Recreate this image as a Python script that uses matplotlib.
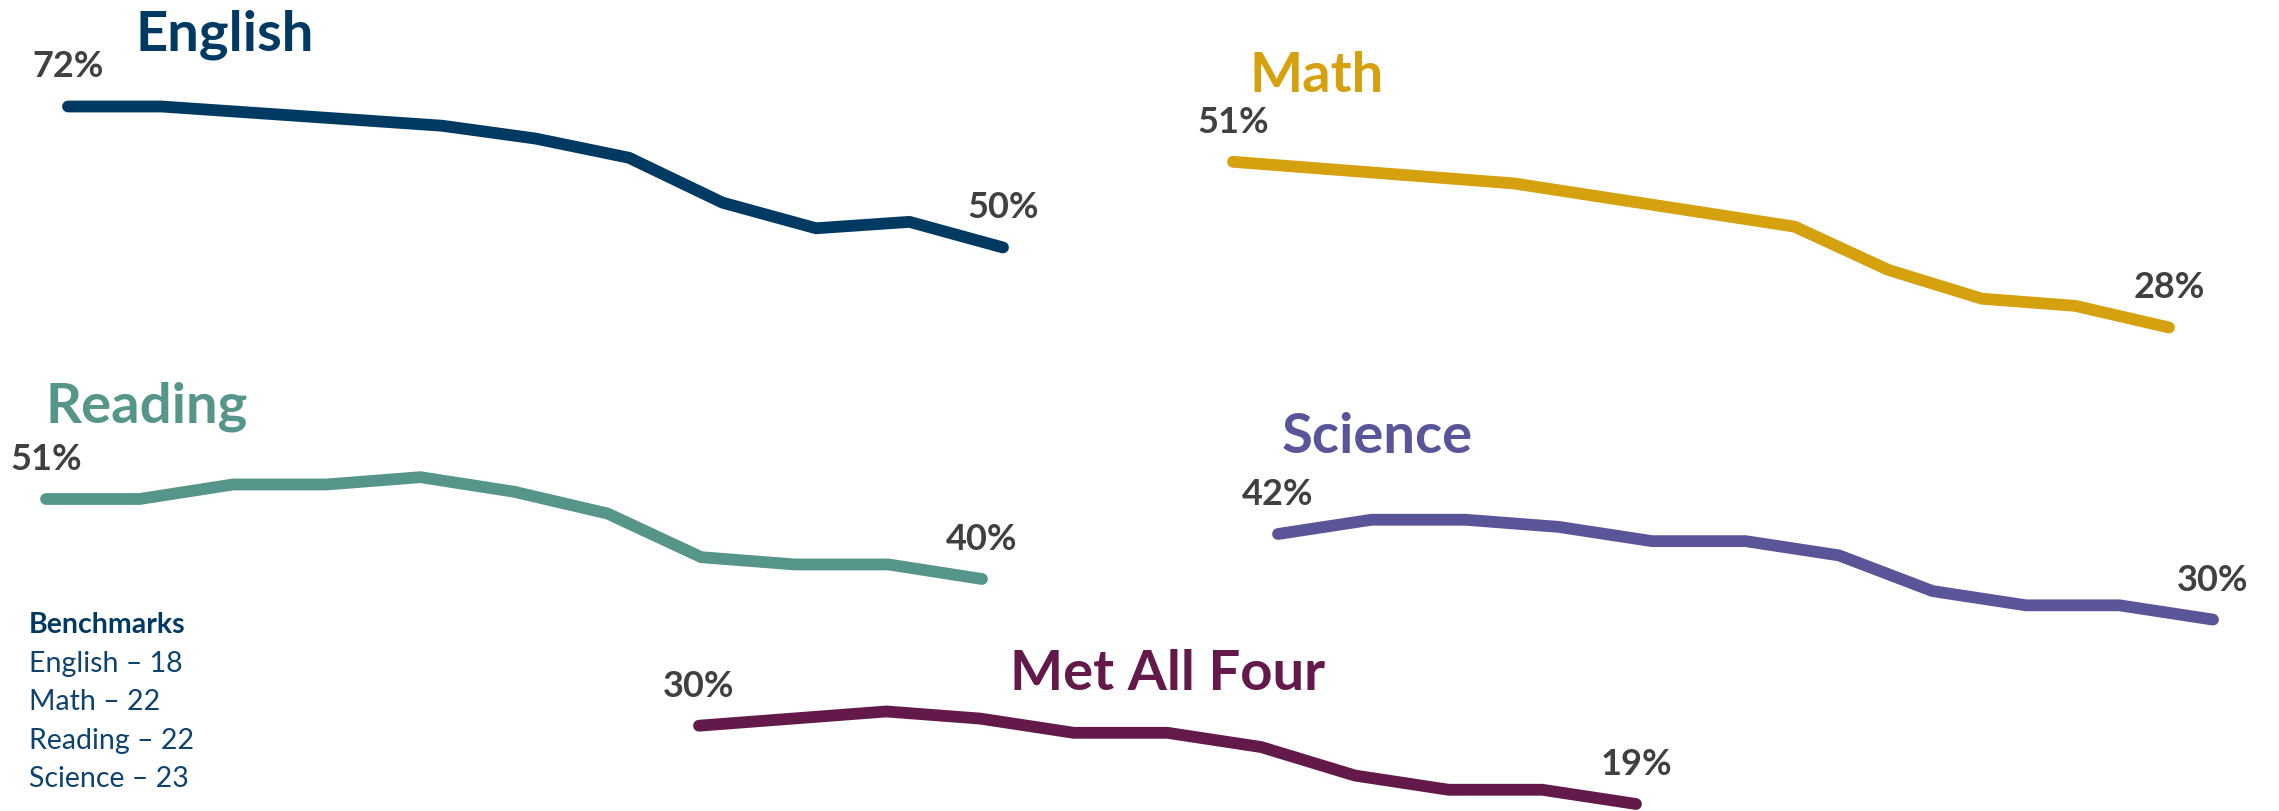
import matplotlib
matplotlib.use("Agg")
import matplotlib.pyplot as plt

# ---- data ----
x_index = [0, 1, 2, 3, 4, 5, 6, 7, 8, 9, 10]
english = [72, 72, 71, 70, 69, 67, 64, 57, 53, 54, 50]
math_ = [51, 50, 49, 48, 46, 44, 42, 36, 32, 31, 28]
reading = [51, 51, 53, 53, 54, 52, 49, 43, 42, 42, 40]
science = [42, 44, 44, 43, 41, 41, 39, 34, 32, 32, 30]
met_all_four = [30, 31, 32, 31, 29, 29, 27, 23, 21, 21, 19]

series_names = ["English", "Math", "Reading", "Science", "Met All Four"]
series_values = [english, math_, reading, science, met_all_four]
series_colors = ["#003A63", "#D6A10F", "#56968A", "#5A5599", "#631A4B"]

benchmark_title = "Benchmarks"
benchmark_lines = ["English \u2013 18", "Math \u2013 22", "Reading \u2013 22", "Science \u2013 23"]

# ---- layout (pixels in a 2279x812 canvas) ----
W, H = 2279, 812
# (x of first point, x of last point, y of first value, y of last value)
panel_boxes = [
    (68, 1003, 107.5, 248.5),
    (1233, 2169, 162.8, 328.5),
    (46, 982, 500, 580),
    (1278, 2213, 535, 620.6),
    (699, 1636, 726.7, 805),
]
# title left x, baseline y
title_pos = [(136, 50), (1250, 92), (45, 423), (1282, 453), (1010, 690)]

FONT = ["Lato", "DejaVu Sans"]
LABEL_COLOR = "#404040"

fig = plt.figure(figsize=(W / 100, H / 100), dpi=100)
fig.patch.set_facecolor("white")

for name, vals, col, box, tp in zip(series_names, series_values, series_colors,
                                   panel_boxes, title_pos):
    x0, x1, yf, yl = box
    top = min(yf, yl)
    bot = max(yf, yl)
    ax = fig.add_axes([x0 / W, 1 - bot / H, (x1 - x0) / W, (bot - top) / H])
    ax.plot(x_index, vals, color=col, lw=8.5, solid_capstyle="round",
            solid_joinstyle="miter", clip_on=False)
    ax.set_xlim(x_index[0], x_index[-1])
    lo, hi = min(vals[0], vals[-1]), max(vals[0], vals[-1])
    ax.set_ylim(lo, hi)
    ax.axis("off")
    for i in (0, len(vals) - 1):
        ax.annotate(f"{vals[i]}%", (x_index[i], vals[i]), xytext=(0, 30),
                    textcoords="offset pixels", ha="center", va="baseline",
                    fontsize=26, fontweight="bold", color=LABEL_COLOR,
                    family=FONT, annotation_clip=False)
    fig.text(tp[0] / W, 1 - tp[1] / H, name, ha="left", va="baseline",
             fontsize=40.5, fontweight="bold", color=col, family=FONT)

# benchmarks block
bx = 29 / W
fig.text(bx, 1 - 633 / H, benchmark_title, ha="left", va="baseline",
         fontsize=20.5, fontweight="bold", color="#003A63", family=FONT)
for k, line in enumerate(benchmark_lines):
    fig.text(bx, 1 - (672 + 38.5 * k) / H, line, ha="left", va="baseline",
             fontsize=20.5, color="#0E4370", family=FONT)

fig.savefig("out.png", dpi=100, facecolor="white")
